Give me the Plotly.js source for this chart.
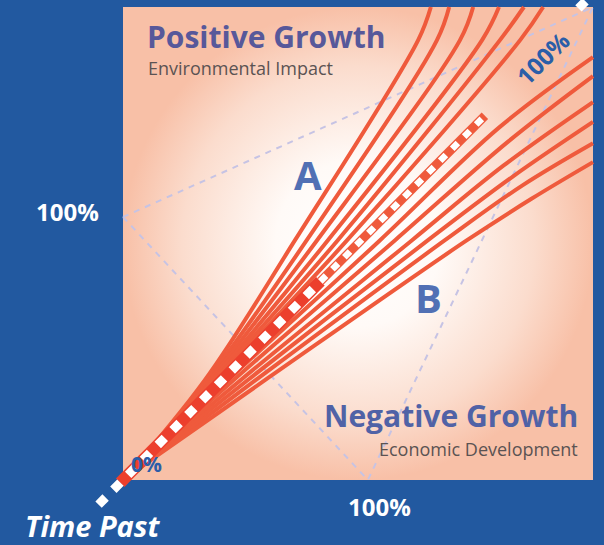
<!DOCTYPE html>
<html>
<head>
<meta charset="utf-8">
<script src="https://cdn.plot.ly/plotly-3.0.1.min.js"></script>
<style>html,body{margin:0;padding:0;background:#2259a0;}#chart{width:604px;height:545px;}</style>
</head>
<body>
<div id="chart"></div>
<script>
// ---- data (percent coordinates of the panel: 0..100 on both axes) ----
// upper fan (environmental impact side): x positions at the listed heights
const upperHeights = [0.4, 21.1, 50.7, 93, 100];
const upperCurve1 = [0.4, 17.4, 36.6, 62.8, 65.5];
const upperCurve2 = [0.4, 17.9, 39.1, 66.8, 69.4];
const upperCurve3 = [0.4, 18.4, 41.3, 71.7, 74.5];
const upperCurve4 = [0.4, 18.9, 43.6, 76.4, 80.0];
const upperCurve5 = [0.4, 19.4, 45.7, 80.2, 85.3];
const upperCurve6 = [0.4, 19.9, 47.7, 84.5, 89.4];
// lower fan (economic development side)
const lowerCurve1X = [0.4, 22.3, 54.7, 80.0, 100];
const lowerCurve1Y = [0.4, 21.1, 50.7, 74.5, 89.4];
const lowerCurve2X = [0.4, 23.5, 57.9, 82.0, 100];
const lowerCurve2Y = [0.4, 21.1, 50.7, 71.6, 85.4];
const lowerCurve3X = [0.4, 25.0, 61.5, 81.0, 100];
const lowerCurve3Y = [0.4, 21.1, 50.7, 66.5, 79.9];
const lowerCurve4X = [0.4, 26.5, 64.9, 83.0, 100];
const lowerCurve4Y = [0.4, 21.1, 50.7, 64.2, 75.7];
const lowerCurve5X = [0.4, 28.2, 68.5, 85.0, 100];
const lowerCurve5Y = [0.4, 21.1, 50.7, 62.3, 71.2];
const lowerCurve6X = [0.4, 30.2, 73.2, 87.0, 100];
const lowerCurve6Y = [0.4, 21.1, 50.7, 59.5, 67.2];
// time axis (diagonal)
const timeAxisRedNear = [-0.6, 42];
const timeAxisRedFar = [42, 77];
const timeAxisWhiteNear = [-5.2, 42];
const timeAxisWhiteFar = [42, 77];
const timeAxisTipX = [96.9, 104.7];
const timeAxisTipY = [99.7, 107.4];
// dotted reference triangle
const triangleX = [0, 52.1, 100, 0];
const triangleY = [55.6, 0, 100, 55.6];
// panel
const panelX = [0, 100, 100, 0, 0];
const panelY = [0, 0, 100, 100, 0];

// ---- styling ----
const BLUE = '#2259a0';
const RED = '#ef5a3c';
const W = 604, H = 545;
const P = (px, py) => ({x: px / W, y: 1 - py / H});

const traces = [];
traces.push({
  x: panelX, y: panelY, mode: 'lines', fill: 'toself',
  line: {width: 0, color: 'rgba(0,0,0,0)'},
  fillgradient: {type: 'radial', colorscale: [[0, '#ffffff'], [0.35, '#fffaf7'], [0.75, '#fbdccd'], [1, '#f8c0a7']]},
  hoverinfo: 'skip'
});
traces.push({
  x: triangleX, y: triangleY, mode: 'lines',
  line: {color: '#c6c3e4', width: 2, dash: '6px,6px'}, hoverinfo: 'skip'
});
[upperCurve1, upperCurve2, upperCurve3, upperCurve4, upperCurve5, upperCurve6].forEach(cx => {
  traces.push({x: cx, y: upperHeights, mode: 'lines',
    line: {color: RED, width: 4, shape: 'spline', smoothing: 1}, hoverinfo: 'skip'});
});
[[lowerCurve1X, lowerCurve1Y], [lowerCurve2X, lowerCurve2Y], [lowerCurve3X, lowerCurve3Y],
 [lowerCurve4X, lowerCurve4Y], [lowerCurve5X, lowerCurve5Y], [lowerCurve6X, lowerCurve6Y]].forEach(([cx, cy]) => {
  traces.push({x: cx, y: cy, mode: 'lines',
    line: {color: RED, width: 4, shape: 'spline', smoothing: 1}, hoverinfo: 'skip'});
});
traces.push({x: timeAxisRedNear, y: timeAxisRedNear, mode: 'lines',
  line: {color: '#ec3f2d', width: 12}, hoverinfo: 'skip'});
traces.push({x: timeAxisRedFar, y: timeAxisRedFar, mode: 'lines',
  line: {color: '#ef5a3c', width: 9}, hoverinfo: 'skip'});
traces.push({x: timeAxisWhiteNear, y: timeAxisWhiteNear, mode: 'lines',
  line: {color: '#ffffff', width: 9, dash: '10px,11px'}, hoverinfo: 'skip'});
traces.push({x: timeAxisWhiteFar, y: timeAxisWhiteFar, mode: 'lines',
  line: {color: '#ffffff', width: 6.5, dash: '8px,9px'}, hoverinfo: 'skip'});
traces.push({x: timeAxisTipX, y: timeAxisTipY, mode: 'lines',
  line: {color: '#ffffff', width: 9, dash: '10px,11px'}, hoverinfo: 'skip'});

const FONT = '"Open Sans", "Noto Sans", sans-serif';
function ann(text, px, py, opts) {
  const p = P(px, py);
  return Object.assign({text, x: p.x, y: p.y, xref: 'paper', yref: 'paper', showarrow: false,
    xanchor: 'center', yanchor: 'middle'}, opts);
}
const annotations = [
  ann('Positive Growth', 145, 37, {xanchor: 'left', font: {family: FONT, size: 30, weight: 'bold', color: '#57589a'}}),
  ann('Environmental Impact', 146, 68, {xanchor: 'left', font: {family: FONT, size: 18, color: '#5b5353'}}),
  ann('A', 308, 174, {font: {family: FONT, size: 40, weight: 'bold', color: '#5170b4'}}),
  ann('B', 428, 297, {font: {family: FONT, size: 40, weight: 'bold', color: '#5170b4'}}),
  ann('Negative Growth', 580, 415, {xanchor: 'right', font: {family: FONT, size: 30, weight: 'bold', color: '#5062a6'}}),
  ann('Economic Development', 580, 449, {xanchor: 'right', font: {family: FONT, size: 18, color: '#5b5353'}}),
  ann('100%', 67, 211, {font: {family: FONT, size: 24, weight: 'bold', color: '#ffffff'}}),
  ann('100%', 379, 506, {font: {family: FONT, size: 24, weight: 'bold', color: '#ffffff'}}),
  ann('Time Past', 23, 525, {xanchor: 'left', font: {family: FONT, size: 29, weight: 'bold', style: 'italic', color: '#ffffff'}}),
  ann('0%', 146, 464, {font: {family: FONT, size: 21, weight: 'bold', color: '#2c5da8'}}),
  ann('100%', 542, 58, {textangle: -45, font: {family: FONT, size: 24, weight: 'bold', color: '#2a5ea8'}})
];

const layout = {
  width: W, height: H,
  margin: {l: 0, r: 0, t: 0, b: 0, pad: 0},
  paper_bgcolor: BLUE, plot_bgcolor: BLUE,
  showlegend: false,
  xaxis: {range: [-123 / 4.7, (W - 123) / 4.7], visible: false, fixedrange: true},
  yaxis: {range: [(480 - H) / 4.73, 480 / 4.73], visible: false, fixedrange: true},
  annotations,
  hovermode: false
};
Plotly.newPlot('chart', traces, layout, {staticPlot: true, displayModeBar: false});
</script>
</body>
</html>
